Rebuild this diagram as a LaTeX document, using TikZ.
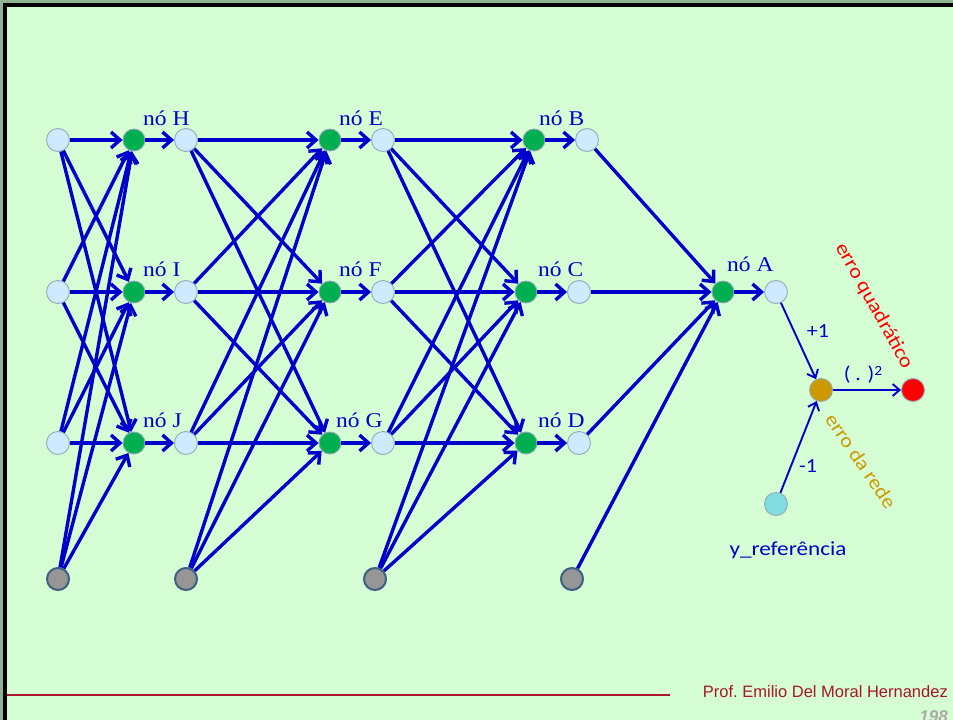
\documentclass[tikz,border=0pt]{standalone}
\usepackage{fontspec}
\usepackage{graphicx}
\usetikzlibrary{arrows.meta}
\setmainfont{Liberation Serif}
\newfontfamily\calib{Carlito}
\newfontfamily\footf{Liberation Sans}
\definecolor{bgouter}{RGB}{145,178,145}
\definecolor{bggreen}{RGB}{213,254,213}
\definecolor{arrowblue}{RGB}{0,0,204}
\definecolor{lightnode}{RGB}{206,234,255}
\definecolor{nodeedge}{RGB}{150,168,185}
\definecolor{sumgreen}{RGB}{0,176,80}
\definecolor{biasgray}{RGB}{150,150,150}
\definecolor{biasedge}{RGB}{60,95,130}
\definecolor{goldnode}{RGB}{204,153,0}
\definecolor{cyannode}{RGB}{128,222,224}
\definecolor{footred}{RGB}{170,20,45}
\definecolor{pagegray}{RGB}{170,170,170}
\newcommand{\sx}[1]{\scalebox{1.12}[1]{#1}}
\tikzset{
  inpnode/.style={circle, draw=nodeedge, fill=lightnode, line width=0.9pt, minimum size=23pt, inner sep=0pt},
  sumnode/.style={circle, draw=nodeedge, fill=sumgreen, line width=0.9pt, minimum size=22pt, inner sep=0pt},
  biasnode/.style={circle, draw=biasedge, fill=biasgray, line width=2pt, minimum size=22pt, inner sep=0pt},
  errnode/.style={circle, draw=nodeedge, line width=0.9pt, minimum size=23pt, inner sep=0pt},
  conn/.style={draw=arrowblue, line width=3.4pt, -{Straight Barb[length=9pt,width=16pt]}},
  thinconn/.style={draw=arrowblue, line width=1.9pt, -{Straight Barb[length=7pt,width=12pt]}},
  nolabel/.style={anchor=base west, inner sep=0pt, text=arrowblue, font=\fontsize{21}{23}\selectfont},
  sanslabel/.style={inner sep=0pt, text=arrowblue, font=\calib\fontsize{20}{22}\selectfont},
}
\begin{document}
\begin{tikzpicture}[x=1pt, y=-1pt]
\useasboundingbox (0,0) rectangle (953,720);
\fill[bgouter] (0,0) rectangle (953,720);
\fill[bggreen] (5,5) rectangle (953,720);
\draw[black, line width=4pt] (5.3,720) -- (5.3,5.3) -- (953,5.3);
% footer
\draw[footred, line width=1.6pt] (7,695) -- (670,695);
\node[anchor=base east, inner sep=0pt, text=footred, font=\footf\fontsize{16.5}{18}\selectfont] (foot) at (948,697) {Prof.\ Emilio Del Moral Hernandez};
\begin{scope}
\clip (0,0) rectangle (953,720);
\node[anchor=base east, inner sep=0pt, text=pagegray, font=\footf\bfseries\itshape\fontsize{17}{18}\selectfont] (page) at (948,722) {198};
\end{scope}

% layer 0
\node[inpnode] (i1) at (58,140) {};
\node[inpnode] (i2) at (58,292) {};
\node[inpnode] (i3) at (58,443) {};
\node[biasnode] (b0) at (58,579) {};
% layer 1
\node[sumnode] (H) at (134,140) {};
\node[sumnode] (I) at (134,292) {};
\node[sumnode] (J) at (134,443) {};
\node[inpnode] (Ho) at (186,140) {};
\node[inpnode] (Io) at (186,292) {};
\node[inpnode] (Jo) at (186,443) {};
\node[biasnode] (b1) at (186,579) {};
% layer 2
\node[sumnode] (E) at (330,140) {};
\node[sumnode] (F) at (330,292) {};
\node[sumnode] (G) at (330,443) {};
\node[inpnode] (Eo) at (383,140) {};
\node[inpnode] (Fo) at (383,292) {};
\node[inpnode] (Go) at (383,443) {};
\node[biasnode] (b2) at (375,579) {};
% layer 3
\node[sumnode] (B) at (534,140) {};
\node[sumnode] (C) at (526,292) {};
\node[sumnode] (D) at (526,443) {};
\node[inpnode] (Bo) at (587,140) {};
\node[inpnode] (Co) at (579,292) {};
\node[inpnode] (Do) at (579,443) {};
\node[biasnode] (b3) at (572,579) {};
% output
\node[sumnode] (A) at (723,292) {};
\node[inpnode] (Ao) at (776,292) {};
\node[errnode, fill=goldnode] (err) at (821,390) {};
\node[errnode, fill=red] (sq) at (913,390) {};
\node[errnode, fill=cyannode] (yref) at (776,504) {};

% connections
\foreach \s in {i1,i2,i3,b0} \foreach \t in {H,I,J} \draw[conn] (\s) -- (\t);
\foreach \s in {Ho,Io,Jo,b1} \foreach \t in {E,F,G} \draw[conn] (\s) -- (\t);
\foreach \s in {Eo,Fo,Go,b2} \foreach \t in {B,C,D} \draw[conn] (\s) -- (\t);
\foreach \s in {Bo,Co,Do,b3} \draw[conn] (\s) -- (A);
\draw[conn] (H) -- (Ho);
\draw[conn] (I) -- (Io);
\draw[conn] (J) -- (Jo);
\draw[conn] (E) -- (Eo);
\draw[conn] (F) -- (Fo);
\draw[conn] (G) -- (Go);
\draw[conn] (B) -- (Bo);
\draw[conn] (C) -- (Co);
\draw[conn] (D) -- (Do);
\draw[conn] (A) -- (Ao);
\draw[thinconn] (Ao) -- (err);
\draw[thinconn] (yref) -- (err);
\draw[thinconn] (err) -- (sq);

% node labels
\node[nolabel] (lH) at (143,125) {\sx{nó H}};
\node[nolabel] (lI) at (143,276) {\sx{nó I}};
\node[nolabel] (lJ) at (143,427) {\sx{nó J}};
\node[nolabel] (lE) at (339,125) {\sx{nó E}};
\node[nolabel] (lF) at (339,276) {\sx{nó F}};
\node[nolabel] (lG) at (336,427) {\sx{nó G}};
\node[nolabel] (lB) at (539,125) {\sx{nó B}};
\node[nolabel] (lC) at (538,276) {\sx{nó C}};
\node[nolabel] (lD) at (538,427) {\sx{nó D}};
\node[nolabel] (lA) at (727,271) {\sx{nó A}};

\node[sanslabel] (lp1) at (818,331) {\scalebox{1.1}[1]{+1}};
\node[sanslabel] (lm1) at (808,466) {\scalebox{1.1}[1]{-1}};
\node[sanslabel] (lsq) at (863,375) {\scalebox{1.1}[1]{( . )\raisebox{0.55ex}{\fontsize{14}{15}\selectfont 2}}};
\node[sanslabel, anchor=base] (lyref) at (788,555) {\scalebox{1.16}[1]{y\_referência}};
\node[sanslabel, text=red] (leq) at (874,306) {\rotatebox{-61}{\scalebox{1.12}[1]{erro quadrático}}};
\node[sanslabel, text=goldnode] (ler) at (861,461) {\rotatebox{-56}{\scalebox{1.1}[1]{erro da rede}}};
\end{tikzpicture}
\end{document}
